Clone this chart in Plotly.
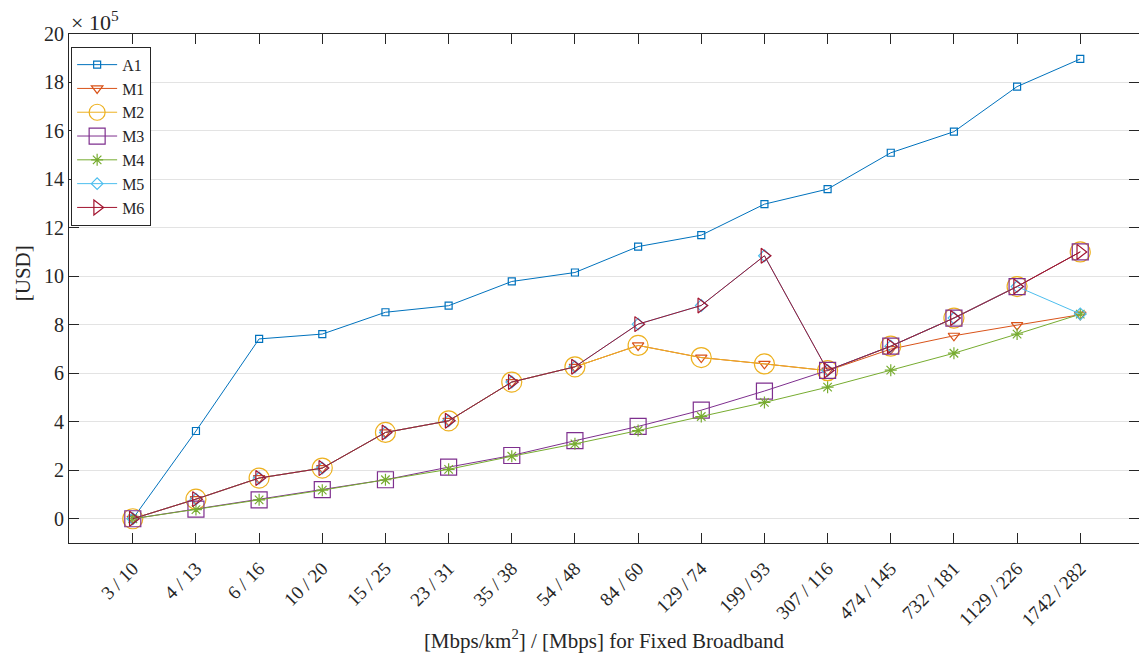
import plotly.graph_objects as go

categories = ["3 / 10", "4 / 13", "6 / 16", "10 / 20", "15 / 25", "23 / 31", "35 / 38", "54 / 48",
              "84 / 60", "129 / 74", "199 / 93", "307 / 116", "474 / 145", "732 / 181", "1129 / 226", "1742 / 282"]

# values in units of 1e5 USD
A1 = [0.0, 3.62, 7.42, 7.62, 8.52, 8.79, 9.79, 10.16, 11.23, 11.70, 12.98, 13.60, 15.10, 15.97, 17.83, 18.97]
M1 = [0.0, 0.81, 1.68, 2.09, 3.56, 4.04, 5.64, 6.27, 7.15, 6.65, 6.39, 6.11, 7.00, 7.55, 7.99, 8.42]
M2 = [0.0, 0.81, 1.68, 2.09, 3.56, 4.04, 5.64, 6.27, 7.15, 6.65, 6.39, 6.11, 7.12, 8.28, 9.58, 11.01]
M3 = [0.0, 0.40, 0.78, 1.20, 1.61, 2.13, 2.61, 3.22, 3.81, 4.48, 5.27, 6.12, 7.12, 8.28, 9.58, 11.01]
M4 = [0.0, 0.38, 0.78, 1.18, 1.61, 2.04, 2.58, 3.09, 3.64, 4.22, 4.80, 5.43, 6.13, 6.83, 7.62, 8.44]
M5 = [0.0, 0.81, 1.68, 2.09, 3.56, 4.04, 5.64, 6.27, 8.03, 8.80, 10.85, 6.12, 7.12, 8.28, 9.58, 8.45]
M6 = [0.0, 0.81, 1.68, 2.09, 3.56, 4.04, 5.64, 6.27, 8.03, 8.80, 10.85, 6.12, 7.12, 8.28, 9.58, 11.01]

y_ticks = list(range(0, 21, 2))

series = [
    ("A1", A1, "#0072BD", "square-open", 7),
    ("M1", M1, "#D95319", "triangle-down-open", 10),
    ("M2", M2, "#EDB120", "circle-open", 20),
    ("M3", M3, "#7E2F8E", "square-open", 16),
    ("M4", M4, "#77AC30", "asterisk-open", 10),
    ("M5", M5, "#4DBEEE", "diamond-open", 9),
    ("M6", M6, "#A2142F", "triangle-right-open", 13),
]

fig = go.Figure()
for name, vals, color, sym, size in series:
    fig.add_trace(go.Scatter(
        x=categories, y=vals, name=name, mode="lines+markers",
        line=dict(color=color, width=1),
        marker=dict(symbol=sym, size=size, color=color, line=dict(width=1.2, color=color)),
    ))

font_family = "Liberation Serif, Times New Roman, serif"
axis_color = "#262626"

fig.update_layout(
    width=1139, height=653,
    margin=dict(l=69, r=0, t=34, b=110),
    paper_bgcolor="white", plot_bgcolor="white",
    font=dict(family=font_family, size=18, color=axis_color),
    showlegend=True,
    legend=dict(x=0.002, y=0.975, xanchor="left", yanchor="top",
                bgcolor="white", bordercolor=axis_color, borderwidth=1,
                font=dict(family=font_family, size=16, color=axis_color),
                tracegroupgap=0, itemwidth=40),
    xaxis=dict(
        type="category", range=[-1.01, 15.93],
        showline=True, linecolor=axis_color, linewidth=1, mirror="allticks",
        ticks="inside", ticklen=10, tickcolor=axis_color, tickwidth=1,
        showgrid=False, tickangle=-45, ticklabelstandoff=6,
        tickfont=dict(family=font_family, size=19),
        title=dict(text="[Mbps/km<sup>2</sup>] / [Mbps] for Fixed Broadband",
                   font=dict(family=font_family, size=21), standoff=6),
    ),
    yaxis=dict(
        range=[-1, 20], tickvals=y_ticks, ticktext=[str(v) for v in y_ticks],
        showline=True, linecolor=axis_color, linewidth=1, mirror="allticks",
        ticks="inside", ticklen=10, tickcolor=axis_color, tickwidth=1,
        showgrid=True, gridcolor="#e3e3e3", gridwidth=1, zeroline=False,
        tickfont=dict(family=font_family, size=20),
    ),
    annotations=[
        dict(text="× 10<sup>5</sup>", xref="paper", yref="paper", x=0.0, y=1.0,
             xanchor="left", yanchor="bottom", showarrow=False,
             font=dict(family=font_family, size=22, color=axis_color), yshift=-3),
        dict(text="[USD]", xref="paper", yref="paper", x=-0.043, y=0.53, xanchor="center",
             yanchor="middle", textangle=-90, showarrow=False,
             font=dict(family=font_family, size=21, color=axis_color)),
    ],
)

fig.write_html("out.html")
